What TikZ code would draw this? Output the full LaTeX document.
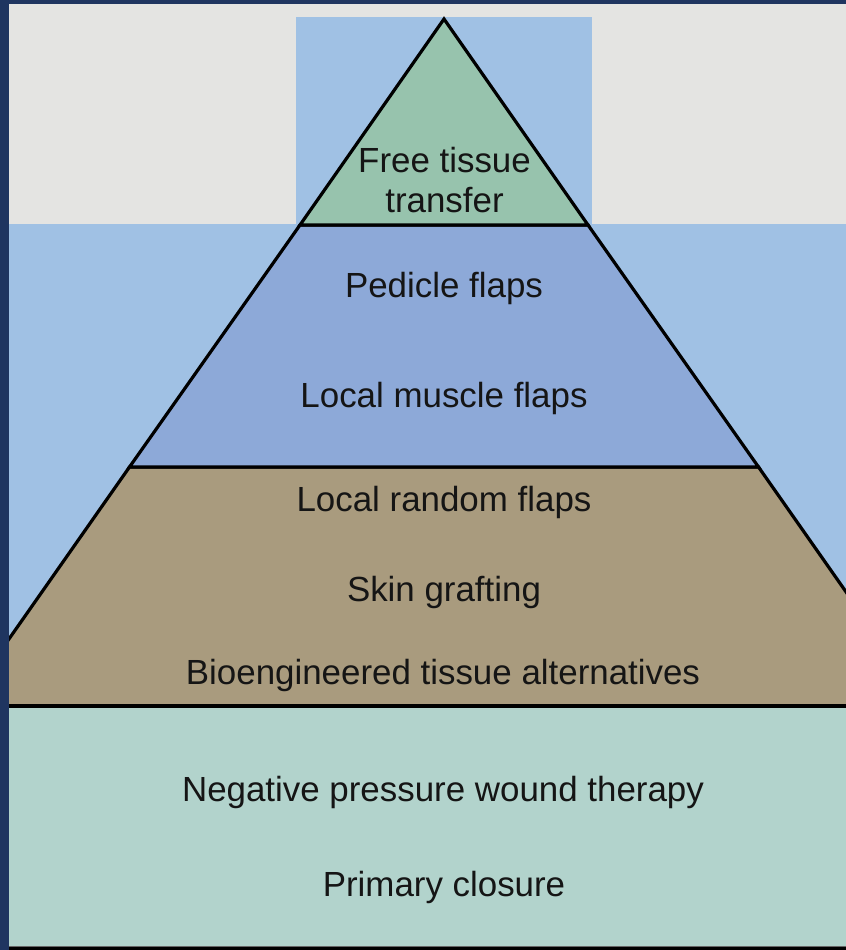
\documentclass[tikz,border=0pt]{standalone}
\usepackage{fontspec}
\setmainfont{Liberation Sans}
\definecolor{navy}{HTML}{1F3560}
\definecolor{bggray}{HTML}{E4E4E2}
\definecolor{skyblue}{HTML}{A0C1E4}
\definecolor{apexgreen}{HTML}{97C3AD}
\definecolor{midblue}{HTML}{8DA9D8}
\definecolor{tan}{HTML}{A99B7E}
\definecolor{teal}{HTML}{B2D3CC}
\definecolor{ink}{HTML}{151515}
\tikzset{
  tier/.style={draw=black, line width=3.2bp, line join=miter},
  label/.style={text=ink, inner sep=0pt, anchor=base, font=\fontsize{34.9bp}{40bp}\selectfont}
}
\begin{document}
\begin{tikzpicture}[x=1bp, y=-1bp]
\useasboundingbox (0,0) rectangle (846,950);
% backgrounds
\fill[navy] (0,0) rectangle (846,950);
\fill[bggray] (9,4) rectangle (846,224);
\fill[skyblue] (9,224) rectangle (846,706);
\fill[skyblue] (296,17) rectangle (592,224);
\fill[teal] (9,706) rectangle (846,947);
\fill[black] (9,946.5) rectangle (846,950);
\fill[black!60] (9,945.5) rectangle (846,946.5);
% pyramid
\begin{scope}
\clip (9,0) rectangle (846,706);
\filldraw[tier, fill=tan] (129.5,467) -- (758.5,467) -- (926,706) -- (-38,706) -- cycle;
\filldraw[tier, fill=midblue] (300,225) -- (588,225) -- (758.5,467) -- (129.5,467) -- cycle;
\filldraw[tier, fill=apexgreen] (444,19) -- (588,225) -- (300,225) -- cycle;
\end{scope}
\draw[black, line width=3.2bp] (9,706) -- (846,706);
% labels
\node[label] (free1) at (444.5,172) {Free tissue};
\node[label] (free2) at (444.5,212) {transfer};
\node[label] (pedicle) at (444,297) {Pedicle flaps};
\node[label] (muscle) at (444,407) {Local muscle flaps};
\node[label] (random) at (444,511) {Local random flaps};
\node[label] (graft) at (444,601) {Skin grafting};
\node[label] (bio) at (443,684) {Bioengineered tissue alternatives};
\node[label] (npwt) at (443,801) {Negative pressure wound therapy};
\node[label] (primary) at (444,896) {Primary closure};
\end{tikzpicture}
\end{document}
